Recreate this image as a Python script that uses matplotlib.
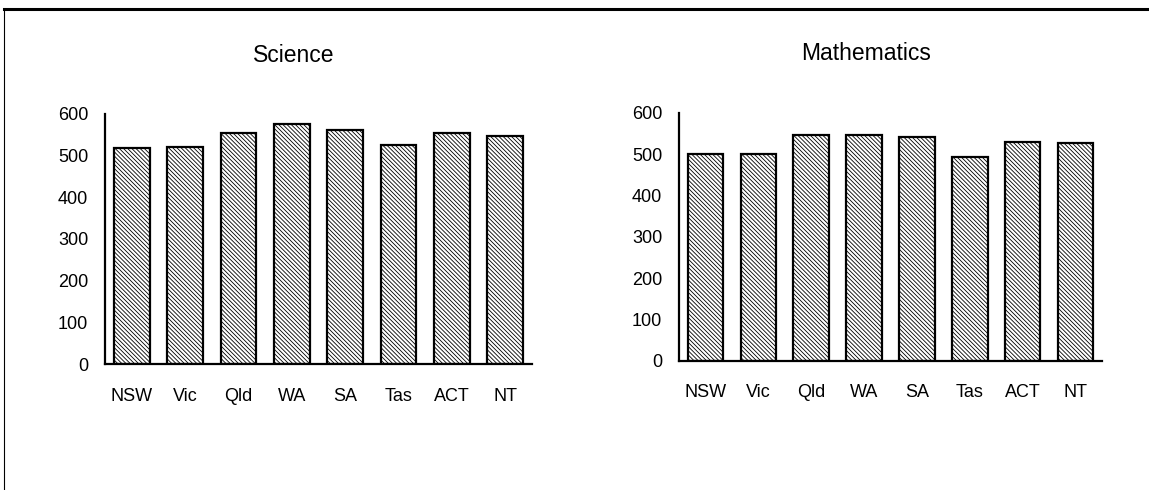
import matplotlib
matplotlib.use("Agg")
import matplotlib.pyplot as plt
from matplotlib.lines import Line2D

plt.rcParams['font.family'] = ['Liberation Sans', 'DejaVu Sans']
plt.rcParams['hatch.linewidth'] = 0.6
plt.rcParams['hatch.color'] = '#222222'

states = ["NSW", "Vic", "Qld", "WA", "SA", "Tas", "ACT", "NT"]
science = [518, 520, 555, 576, 561, 525, 553, 547]
mathematics = [499, 499, 547, 547, 540, 492, 529, 527]
yticks = [0, 100, 200, 300, 400, 500, 600]

W, H = 1149, 490
fig = plt.figure(figsize=(W / 100, H / 100), dpi=100)


def px_axes(l, r, top, bot):
    return fig.add_axes([l / W, 1 - bot / H, (r - l) / W, (bot - top) / H])


def draw(ax, vals, title, tx, ty):
    x = list(range(len(states)))
    ax.bar(x, vals, width=0.67, color="white", edgecolor="black",
           linewidth=1.6, hatch="\\" * 8)
    ax.set_xlim(-0.5, len(states) - 0.5)
    ax.set_ylim(0, 600)
    ax.set_yticks(yticks)
    ax.set_xticks(x)
    ax.set_xticklabels(states)
    for s in ["top", "right"]:
        ax.spines[s].set_visible(False)
    for s in ["left", "bottom"]:
        ax.spines[s].set_linewidth(1.6)
    ax.tick_params(axis="both", length=0, labelsize=13)
    ax.tick_params(axis="y", pad=12)
    ax.tick_params(axis="x", pad=17)
    fig.text(tx / W, 1 - ty / H, title, ha="center", va="center", fontsize=16.5)


ax1 = px_axes(105, 532, 113.8, 364)
draw(ax1, science, "Science", 293.5, 55)
ax2 = px_axes(679, 1102, 112.7, 360.7)
draw(ax2, mathematics, "Mathematics", 866, 53)

# outer frame lines
fig.add_artist(Line2D([3.5 / W, 1], [1 - 9 / H, 1 - 9 / H], color="black",
                      linewidth=2.2, transform=fig.transFigure))
fig.add_artist(Line2D([3.5 / W, 3.5 / W], [1 - 9 / H, 0], color="black",
                      linewidth=0.8, transform=fig.transFigure))

fig.savefig("out.png", dpi=100)
